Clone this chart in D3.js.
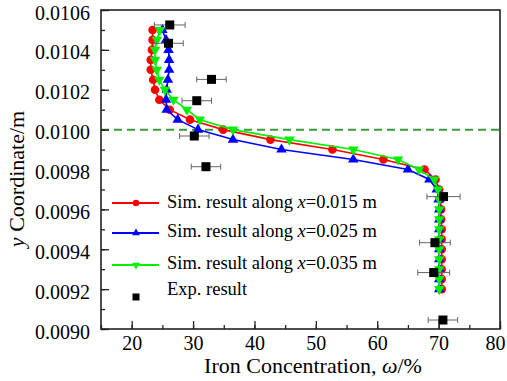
<!DOCTYPE html>
<html>
<head>
<meta charset="utf-8">
<script src="https://cdn.jsdelivr.net/npm/d3@7/dist/d3.min.js"></script>
<style>
  body { margin: 0; background: #fff; }
  svg text { font-family: "Liberation Serif", "Times New Roman", serif; fill: #000; }
</style>
</head>
<body>
<svg id="viz_profile"></svg>
<script>
// y levels of the simulation nodes (m), top to bottom
var sim_y = [0.01050, 0.01045, 0.01040, 0.01035, 0.01030, 0.01025, 0.01020, 0.01015, 0.01010,
    0.01005, 0.01000, 0.00995, 0.00990, 0.00985, 0.00980, 0.00975, 0.00970, 0.00965, 0.00960,
    0.00955, 0.00950, 0.00945, 0.00940, 0.00935, 0.00930, 0.00925, 0.00920];

// iron concentration (%) along x=0.015, 0.025, 0.035 m
var sim_015 = [23.4, 23.4, 23.3, 23.1, 23.1, 23.5, 23.8, 24.5, 26.2, 29.5, 34.9, 42.6, 52.7, 61.0,
    67.7, 69.5, 70.1, 70.3, 70.4, 70.4, 70.5, 70.5, 70.5, 70.5, 70.5, 70.5, 70.5];
var sim_025 = [25.0, 25.6, 26.0, 26.1, 26.1, 25.9, 25.7, 25.6, 25.7, 27.5, 30.8, 36.5, 44.4, 56.1,
    65.0, 68.5, 69.7, 70.0, 70.1, 70.1, 70.1, 70.1, 70.1, 70.1, 70.1, 70.1, 70.1];
var sim_035 = [24.6, 24.1, 23.8, 23.8, 24.1, 24.5, 25.4, 26.8, 29.0, 31.1, 36.5, 45.7, 56.1, 63.4,
    66.8, 69.3, 69.9, 70.1, 70.1, 70.1, 70.1, 70.1, 70.1, 70.1, 70.1, 70.1, 70.1];

// experimental points: y (m), concentration (%), error (%)
var exp_y = [0.010525, 0.010433, 0.010252, 0.010145, 0.009968, 0.009814, 0.009664, 0.009433, 0.009283, 0.009045];
var exp_c = [26.2, 26.0, 33.0, 30.6, 30.2, 32.1, 70.8, 69.4, 69.2, 70.7];
var exp_err = [2.5, 2.4, 2.4, 2.4, 2.4, 2.4, 2.7, 2.5, 2.6, 2.4];

var x_ticks = [20, 30, 40, 50, 60, 70, 80];
var y_ticks = [0.0090, 0.0092, 0.0094, 0.0096, 0.0098, 0.0100, 0.0102, 0.0104, 0.0106];
var ref_line = 0.0100;

var legend_names = ["Sim. result along ", "Sim. result along ", "Sim. result along ", "Exp. result"];
var legend_pos = ["0.015", "0.025", "0.035"];

var width = 507,
    height = 381,
    margin = {"top": 10, "right": 7, "bottom": 52, "left": 101},
    serif = "'Liberation Serif', 'Times New Roman', serif",
    red = "#ff0000",
    blue = "#0000ff",
    green = "#00f000",
    axis_color = "#222";

var svg = d3.select("svg#viz_profile")
    .attr("width", width)
    .attr("height", height);

var x = d3.scaleLinear().domain([15, 80]).range([margin.left, width - margin.right]);
var y = d3.scaleLinear().domain([0.0090, 0.0106]).range([height - margin.bottom, margin.top]);

var plot_bottom = height - margin.bottom;

// dashed interface line
svg.append("line")
    .attr("x1", x(15))
    .attr("x2", x(80))
    .attr("y1", y(ref_line))
    .attr("y2", y(ref_line))
    .attr("stroke", "#3a9a3a")
    .attr("stroke-width", 2)
    .attr("stroke-dasharray", "8,5");

// minor ticks
svg.append("g")
    .attr("transform", "translate(0," + plot_bottom + ")")
    .call(d3.axisBottom(x).tickValues(d3.range(15, 81, 5)).tickSize(-4).tickFormat(""))
    .call(function(g) { g.select(".domain").remove(); });

svg.append("g")
    .attr("transform", "translate(" + margin.left + ",0)")
    .call(d3.axisLeft(y).tickValues(d3.range(0, 17).map(function(i) { return 0.0090 + i * 0.0001; })).tickSize(-4).tickFormat(""))
    .call(function(g) { g.select(".domain").remove(); });

// major ticks + labels
var x_axis = svg.append("g")
    .attr("transform", "translate(0," + plot_bottom + ")")
    .call(d3.axisBottom(x).tickValues(x_ticks).tickSize(-8).tickPadding(7).tickFormat(d3.format("d")));

var y_axis = svg.append("g")
    .attr("transform", "translate(" + margin.left + ",0)")
    .call(d3.axisLeft(y).tickValues(y_ticks).tickSize(-8).tickPadding(11).tickFormat(d3.format(".4f")));

[x_axis, y_axis].forEach(function(g) {
    g.attr("font-family", serif).attr("font-size", 20);
    g.select(".domain").remove();
    g.selectAll("text")
        .style("font-family", serif)
        .style("font-size", "20px")
        .attr("fill", "#000");
});

// keep the last x label inside the picture
x_axis.selectAll(".tick text")
    .filter(function(d) { return d === 80; })
    .attr("dx", -5);

y_axis.selectAll(".tick text").attr("dy", "0.45em");

svg.selectAll(".tick line")
    .attr("stroke", axis_color)
    .attr("stroke-width", 1.3);

// frame
svg.append("rect")
    .attr("x", x(15))
    .attr("y", y(0.0106))
    .attr("width", x(80) - x(15))
    .attr("height", y(0.0090) - y(0.0106))
    .attr("fill", "none")
    .attr("stroke", axis_color)
    .attr("stroke-width", 1.6);

// simulation curves
var series = [
    {"values": sim_015, "color": red, "marker": "circle"},
    {"values": sim_025, "color": blue, "marker": "up"},
    {"values": sim_035, "color": green, "marker": "down"}
];

var line = d3.line()
    .x(function(d) { return x(d.c); })
    .y(function(d) { return y(d.y); });

function draw_marker(sel, type, scale) {
    if (type === "circle") {
        sel.append("circle").attr("r", 4.3 * scale);
    } else {
        sel.append("path")
            .attr("d", d3.symbol().type(d3.symbolTriangle).size(48 * scale * scale)())
            .attr("transform", type === "down" ? "rotate(180)" : null);
    }
}

series.forEach(function(s) {
    var pts = sim_y.map(function(v, i) { return {"y": v, "c": s.values[i]}; });
    var g = svg.append("g").attr("fill", s.color);

    g.append("path")
        .datum(pts)
        .attr("d", line)
        .attr("fill", "none")
        .attr("stroke", s.color)
        .attr("stroke-width", 1.6);

    g.selectAll("g.pt")
        .data(pts)
        .enter()
        .append("g")
            .attr("class", "pt")
            .attr("transform", function(d) { return "translate(" + [x(d.c), y(d.y)] + ")"; })
            .each(function() { draw_marker(d3.select(this), s.marker, 1); });
});

// experimental points
var exp_data = exp_y.map(function(v, i) { return {"y": v, "c": exp_c[i], "e": exp_err[i]}; });

var exp_g = svg.selectAll("g.exp")
    .data(exp_data)
    .enter()
    .append("g")
        .attr("class", "exp")
        .attr("transform", function(d) { return "translate(0," + y(d.y) + ")"; });

exp_g.append("line")
    .attr("x1", function(d) { return x(d.c - d.e); })
    .attr("x2", function(d) { return x(d.c + d.e); })
    .attr("stroke", "#666")
    .attr("stroke-width", 1);

exp_g.selectAll("line.cap")
    .data(function(d) { return [d.c - d.e, d.c + d.e]; })
    .enter()
    .append("line")
        .attr("class", "cap")
        .attr("x1", function(d) { return x(d); })
        .attr("x2", function(d) { return x(d); })
        .attr("y1", -3)
        .attr("y2", 3)
        .attr("stroke", "#666")
        .attr("stroke-width", 1);

exp_g.append("rect")
    .attr("x", function(d) { return x(d.c) - 4.5; })
    .attr("y", -4.5)
    .attr("width", 9)
    .attr("height", 9)
    .attr("fill", "#000");

// legend
var legend_y = [203, 233, 265, 297];
var text_y = [208, 237, 269, 295];

var legend = svg.append("g").attr("class", "legend");

series.forEach(function(s, i) {
    var g = legend.append("g").attr("fill", s.color);
    g.append("line")
        .attr("x1", 112)
        .attr("x2", 159)
        .attr("y1", legend_y[i])
        .attr("y2", legend_y[i])
        .attr("stroke", s.color)
        .attr("stroke-width", 1.8);
    var m = g.append("g").attr("transform", "translate(" + [136, legend_y[i]] + ")");
    draw_marker(m, s.marker, 0.75);
});

legend.append("rect")
    .attr("x", 132.5)
    .attr("y", legend_y[3] - 3.5)
    .attr("width", 7)
    .attr("height", 7)
    .attr("fill", "#000");

legend_names.forEach(function(name, i) {
    var t = legend.append("text")
        .attr("x", 167)
        .attr("y", text_y[i])
        .style("font-size", "18.5px");
    t.append("tspan").text(name);
    if (i < 3) {
        t.append("tspan").style("font-style", "italic").text("x");
        t.append("tspan").text("=" + legend_pos[i] + " m");
    }
});

// axis titles
var x_title = svg.append("text")
    .attr("x", 313)
    .attr("y", 373)
    .attr("text-anchor", "middle")
    .style("font-size", "22px");
x_title.append("tspan").text("Iron Concentration, ");
x_title.append("tspan").style("font-style", "italic").text("\u03c9");
x_title.append("tspan").text("/%");

var y_title = svg.append("text")
    .attr("transform", "translate(" + [24, 179] + ") rotate(-90)")
    .attr("text-anchor", "middle")
    .style("font-size", "22px");
y_title.append("tspan").style("font-style", "italic").text("y");
y_title.append("tspan").text(" Coordinate/m");
</script>
</body>
</html>
